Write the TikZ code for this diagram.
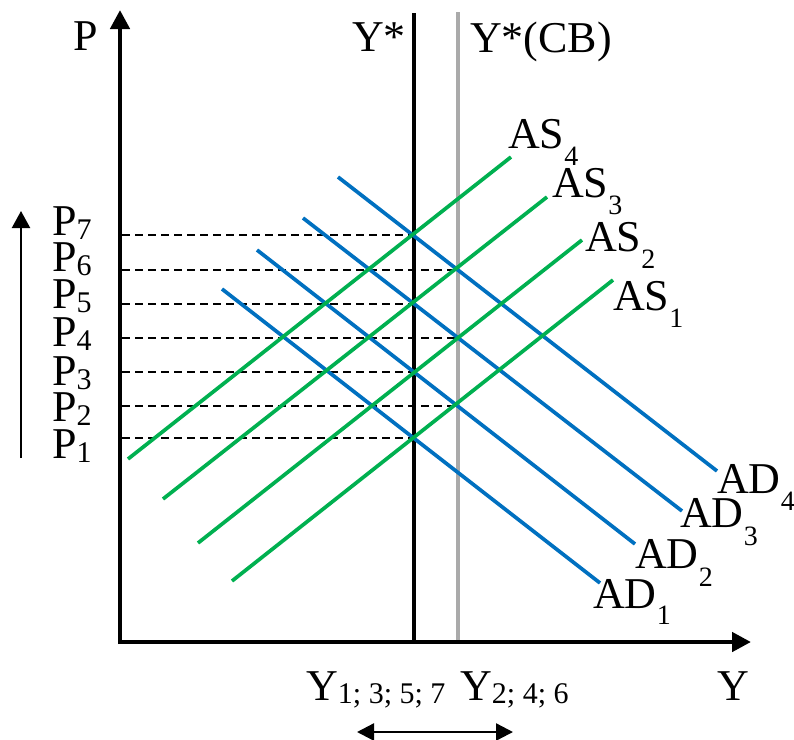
\documentclass[tikz,border=0pt]{standalone}
\usepackage{fontspec}
\setmainfont{Liberation Serif}
\usetikzlibrary{arrows.meta}
\definecolor{adblue}{HTML}{0070C0}
\definecolor{asgreen}{HTML}{00B050}
\definecolor{cbgray}{HTML}{AAAAAA}
\newcommand\lowsub[3]{\raisebox{-#1pt}{\fontsize{#2}{#2}\selectfont #3}}
\tikzset{
  lab/.style={font=\fontsize{44}{44}\selectfont, inner sep=0pt, anchor=base west},
  axisline/.style={line width=4.5pt, -{Triangle[length=19pt,width=19pt]}},
  adline/.style={adblue, line width=3.7pt},
  asline/.style={asgreen, line width=3.7pt},
  guide/.style={line width=1.5pt, dash pattern=on 8pt off 5pt},
  thinarrow/.style={line width=2.2pt, -{Triangle[length=17pt,width=18pt]}},
  dblarrow/.style={line width=2.4pt, {Triangle[length=17pt,width=17pt]}-{Triangle[length=17pt,width=17pt]}}
}
\begin{document}
\begin{tikzpicture}[x=1pt,y=-1pt]
\useasboundingbox (0,0) rectangle (794,739);
% axes
\coordinate (Pbot) at (120,644);
\coordinate (Ptop) at (120,10);
\coordinate (Xleft) at (118,642);
\coordinate (Xright) at (751,642);
% verticals
\coordinate (ysT) at (414,13);
\coordinate (ysB) at (414,642);
\coordinate (ycT) at (458,12);
\coordinate (ycB) at (458,642);
\draw[line width=4pt] (ysT) -- (ysB);
\draw[cbgray, line width=3.8pt] (ycT) -- (ycB);
\draw[axisline] (Pbot) -- (Ptop);
\draw[axisline] (Xleft) -- (Xright);
% equilibrium points
\coordinate (e1) at (414,438);
\coordinate (e2) at (458,406);
\coordinate (e3) at (414,372);
\coordinate (e4) at (458,338);
\coordinate (e5) at (414,304);
\coordinate (e6) at (458,270);
\coordinate (e7) at (414,235);
\foreach \k/\yy in {1/438,2/406,3/372,4/338,5/304,6/270,7/235}{
  \coordinate (p\k) at (122,\yy);
  \draw[guide] (p\k) -- (e\k);
}
% AD curves
\coordinate (ad1a) at (222,289); \coordinate (ad1b) at (600,583);
\coordinate (ad2a) at (257,250); \coordinate (ad2b) at (635,544);
\coordinate (ad3a) at (303,218); \coordinate (ad3b) at (682,511);
\coordinate (ad4a) at (338,177); \coordinate (ad4b) at (717,471);
\foreach \k in {1,2,3,4}{\draw[adline] (ad\k a) -- (ad\k b);}
% AS curves
\coordinate (as4a) at (128,459); \coordinate (as4b) at (511,157);
\coordinate (as3a) at (163,499); \coordinate (as3b) at (547,197);
\coordinate (as2a) at (198,543); \coordinate (as2b) at (582,240);
\coordinate (as1a) at (232,581); \coordinate (as1b) at (613,280);
\foreach \k in {1,2,3,4}{\draw[asline] (as\k a) -- (as\k b);}
% left arrow
\coordinate (laB) at (21,458);
\coordinate (laT) at (21,211);
\draw[thinarrow] (laB) -- (laT);
% bottom double arrow
\coordinate (daL) at (357,732);
\coordinate (daR) at (513,732);
\draw[dblarrow] (daL) -- (daR);
% labels
\node[lab] (lP) at (73,50) {P};
\node[lab] (lYs) at (352,51) {Y*};
\node[lab] (lYc) at (470,52) {Y*(CB)};
\node[lab] (lAS4) at (508,148) {AS\lowsub{17}{28}{4}};
\node[lab] (lAS3) at (552,197) {AS\lowsub{17}{28}{3}};
\node[lab] (lAS2) at (585,251) {AS\lowsub{17}{28}{2}};
\node[lab] (lAS1) at (613,310) {AS\lowsub{17}{28}{1}};
\node[lab] (lAD4) at (717,493) {AD\lowsub{17}{28}{4}};
\node[lab] (lAD3) at (680,527) {AD\lowsub{18}{28}{3}};
\node[lab] (lAD2) at (635,568) {AD\lowsub{18}{28}{2}};
\node[lab] (lAD1) at (593,608) {AD\lowsub{16}{28}{1}};
\foreach \k/\yy in {7/235,6/271,5/308,4/346,3/385,2/421,1/458}{
  \node[lab] (lP\k) at (52,\yy) {P\lowsub{4}{30}{\k}};
}
\node[lab] (lY1) at (306,700) {Y\lowsub{3}{30}{1; 3; 5; 7}};
\node[lab] (lY2) at (460,700) {Y\lowsub{3}{30}{2; 4; 6}};
\node[lab] (lY) at (717,700) {Y};
\end{tikzpicture}
\end{document}
